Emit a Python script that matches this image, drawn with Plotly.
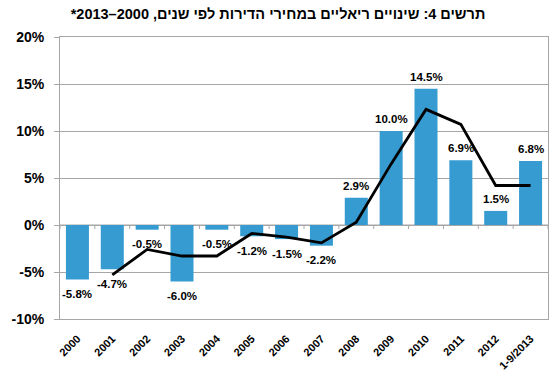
import plotly.graph_objects as go

categories = ["2000", "2001", "2002", "2003", "2004", "2005", "2006",
              "2007", "2008", "2009", "2010", "2011", "2012", "1-9/2013"]
bar_values = [-5.8, -4.7, -0.5, -6.0, -0.5, -1.2, -1.5, -2.2, 2.9, 10.0, 14.5, 6.9, 1.5, 6.8]
bar_labels = ["-5.8%", "-4.7%", "-0.5%", "-6.0%", "-0.5%", "-1.2%", "-1.5%", "-2.2%",
              "2.9%", "10.0%", "14.5%", "6.9%", "1.5%", "6.8%"]
line_categories = categories[1:]
line_values = [-5.3, -2.6, -3.3, -3.3, -0.9, -1.3, -1.9, 0.3, 6.5, 12.3, 10.7, 4.2, 4.2]
y_ticks = [-10, -5, 0, 5, 10, 15, 20]
y_tick_labels = ["-10%", "-5%", "0%", "5%", "10%", "15%", "20%"]
title_text = "תרשים 4: שינויים ריאליים במחירי הדירות לפי שנים, 2000–2013*"

FONT = "Liberation Sans, Arial, sans-serif"
BAR_COLOR = "#359BD1"
GRID = "#A6A6A6"

n = len(categories)
idx = list(range(n))
cat_index = {c: i for i, c in enumerate(categories)}

fig = go.Figure()
fig.add_trace(go.Bar(x=idx, y=bar_values, marker=dict(color=BAR_COLOR, line=dict(width=0)),
                     hoverinfo="skip", showlegend=False))
fig.add_trace(go.Scatter(x=[cat_index[c] for c in line_categories], y=line_values, mode="lines",
                         line=dict(color="black", width=2.8), hoverinfo="skip", showlegend=False))

for i, v, lab in zip(idx, bar_values, bar_labels):
    fig.add_annotation(x=i, y=v, text="<b>%s</b>" % lab, showarrow=False,
                       yshift=12 if v >= 0 else -14.5,
                       font=dict(family=FONT, size=11.5, color="black"))

# zero line with small boundary ticks
fig.add_shape(type="line", xref="paper", yref="y", x0=0, x1=1, y0=0, y1=0,
              line=dict(color=GRID, width=1), layer="below")
for i in range(n + 1):
    fig.add_shape(type="line", xref="x", yref="y", ysizemode="pixel", yanchor=0,
                  x0=i - 0.5, x1=i - 0.5, y0=0, y1=-4,
                  line=dict(color=GRID, width=1), layer="below")

fig.update_layout(
    width=556, height=374,
    margin=dict(l=60, r=8, t=37, b=55),
    paper_bgcolor="white", plot_bgcolor="white",
    bargap=0.34,
    title=dict(text="<b>\u202b" + title_text + "\u202c</b>", x=0.5, xanchor="center",
               y=1 - 14 / 374, yanchor="middle",
               font=dict(family=FONT, size=14.5, color="black")),
    xaxis=dict(range=[-0.5, n - 0.5], tickvals=idx, ticktext=["<b>%s</b>" % c for c in categories],
               tickangle=-45, tickfont=dict(family=FONT, size=11, color="black"),
               showgrid=False, ticks="", showline=True, linecolor=GRID, mirror=True,
               zeroline=False, automargin=False, ticklabelstandoff=8),
    yaxis=dict(range=[-10, 20], tickvals=y_ticks, ticktext=["<b>%s</b>" % t for t in y_tick_labels],
               tickfont=dict(family=FONT, size=14, color="black"),
               showgrid=True, gridcolor=GRID, gridwidth=1, zeroline=False,
               ticks="outside", ticklen=5, tickcolor=GRID,
               showline=True, linecolor=GRID, mirror=True, automargin=False,
               ticklabelstandoff=7),
)

fig.write_html("out.html", config={"displayModeBar": False},
               post_script="document.body.style.margin='0';")
